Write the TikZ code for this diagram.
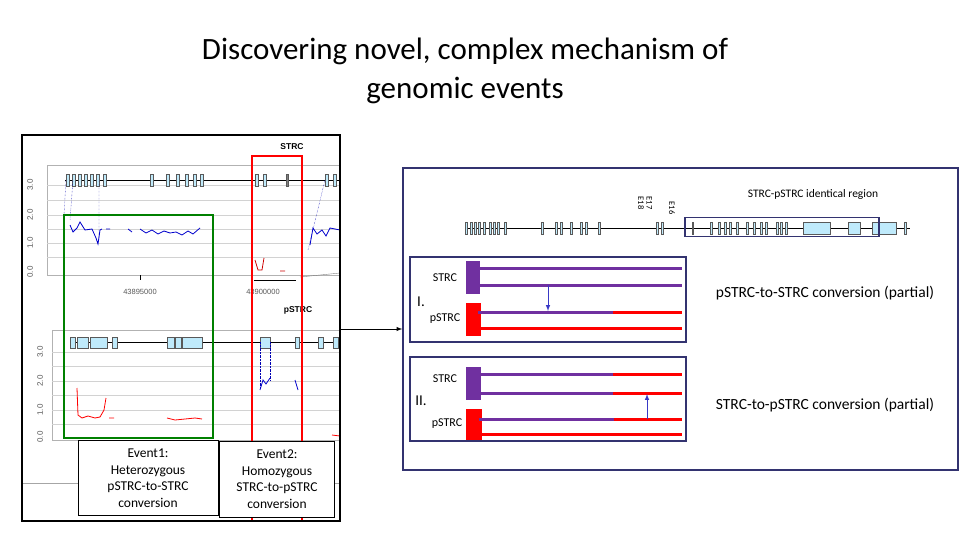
\documentclass[tikz,border=0pt]{standalone}
\usepackage{fontspec}
\setmainfont{Carlito}
\newfontfamily\arialf{Liberation Sans}
\definecolor{pur}{RGB}{112,48,160}
\begin{document}
\begin{tikzpicture}[x=1pt,y=-1pt,
  exon/.style={fill=cyan!25!white,draw=gray!70!black,line width=0.5pt},
  panel/.style={draw=blue!30!black!80,line width=1.4pt},
  purp/.style={draw=pur,line width=3pt},
  redl/.style={draw=red,line width=3pt},
  conv/.style={draw=blue!55!gray,line width=1pt,-latex},
  ax/.style={font=\arialf\fontsize{8}{9}\selectfont,rotate=90,text=gray!70!black},
  grid/.style={draw=gray!35,line width=0.5pt}]
\useasboundingbox (0,0) rectangle (960,540);
\node (title) [align=center,font=\fontsize{31}{39}\selectfont] at (465,71) {Discovering novel, complex mechanism of\\genomic events};
% ---- left screenshot
\fill[white] (22,135) rectangle (340,521);
\begin{scope}
\clip (22,135) rectangle (340,521);
% upper plot
\draw[gray!60] (47,165) rectangle (345,275);
\foreach \y in {185,200,215,229,243,257} \draw[grid] (47,\y) -- (340,\y);
\foreach \t/\y in {3.0/185,2.0/215,1.0/243,0.0/272} \node[ax] at (30,\y) {\t};
\draw[black,line width=0.8pt] (65,180) -- (340,180);
\foreach \a in {66,72,78,84,90,96,103,150,166,176,185,193,200,255,263,325,333}
  \draw[exon] (\a,174) rectangle ++(3,12);
\draw[exon,fill=gray] (286,174) rectangle ++(2,12);
\draw[blue!70!black,densely dotted] (66,180) -- (64,215) (73,180)--(70,220) (99,180)--(99,240) (325,180)--(308,250);
\draw[blue!80!black,line width=0.8pt] (70,225)--(73,232)--(77,228)--(80,222)--(85,230)--(92,229)--(96,238)--(98,244)--(100,230)--(102,229);
\draw[blue!80!black,line width=0.8pt] (106,229)--(110,229) (128,229)--(132,232) (140,229)--(146,233)--(152,230)--(158,234)--(164,231)--(170,233)--(176,232)--(182,235)--(188,231)--(193,234)--(200,228);
\draw[blue!80!black,line width=0.8pt] (310,245)--(313,228)--(317,234)--(322,230)--(326,236)--(330,228)--(340,230);
\draw[red!80!black,line width=0.8pt] (255,260)--(258,270)--(262,270)--(264,258) (280,271)--(285,271);
\draw (140,275)--(140,280);
\node[font=\arialf\fontsize{7.5}{8}\selectfont,text=gray!70!black] (t1) at (140,292) {43895000};
\node[font=\arialf\fontsize{7.5}{8}\selectfont,text=gray!70!black] (t2) at (263,292) {43900000};
\draw[line width=0.8pt] (254,280) -- (296,280);
\draw[gray] (300,277) -- (340,273);
\node[font=\arialf\bfseries\fontsize{8.5}{9}\selectfont] (lstrc) at (292,147) {STRC};
\node[font=\arialf\bfseries\fontsize{8.5}{9}\selectfont] (lpstrc) at (298,310) {pSTRC};
% lower plot
\draw[gray!60] (52,330) rectangle (345,440);
\foreach \y in {352,366,381,395,410,424} \draw[grid] (52,\y) -- (340,\y);
\foreach \t/\y in {3.0/352,2.0/381,1.0/410,0.0/437} \node[ax] at (40,\y) {\t};
\draw[black,line width=0.8pt] (70,342) -- (340,342);
\draw[exon] (70,337) rectangle (75,348); \draw[exon] (77,337) rectangle (88,348);
\draw[exon] (90,337) rectangle (107,348); \draw[exon] (112,337) rectangle (117,348);
\draw[exon] (167,337) rectangle (174,348); \draw[exon] (175,337) rectangle (181,348);
\draw[exon] (182,337) rectangle (202,348); \draw[exon] (260,337) rectangle (270,348);
\draw[exon] (295,337) rectangle (299,348); \draw[exon] (318,337) rectangle (323,348);
\draw[exon] (333,337) rectangle (338,348);
\draw[blue!70!black,densely dotted] (260,342)--(260,388) (270,342)--(270,380);
\draw[blue!80!black,line width=0.8pt] (260,390)--(263,380)--(266,384)--(270,378) (295,380)--(298,390);
\draw[red,line width=0.8pt] (77,388)--(78,415)--(82,418)--(88,416)--(95,418)--(100,417)--(104,410)--(106,398) (109,418)--(114,418) (167,418)--(175,420)--(185,419)--(195,418)--(202,419);
\draw[red,line width=0.8pt] (332,435)--(340,436);
\draw[gray!70] (22,483) -- (340,483);
\end{scope}
\draw[green!50!black,line width=1.2pt] (64,215) rectangle (213,438);
\draw[red,line width=1.6pt] (252,156) rectangle (302,521);
\node (ev1) [draw,fill=white,align=center,minimum width=140pt,minimum height=75pt,inner sep=1pt,font=\fontsize{13.5}{16.5}\selectfont] at (148,478) {Event1:\\Heterozygous\\pSTRC-to-STRC\\conversion};
\node (ev2) [draw,fill=white,align=center,minimum width=115pt,minimum height=76pt,inner sep=1pt,font=\fontsize{13.5}{16.5}\selectfont] at (277,479) {Event2:\\Homozygous\\STRC-to-pSTRC\\conversion};
\draw[line width=2.5pt] (22,135) rectangle (340,521);
% ---- right box
\node (rbox) [panel,minimum width=555pt,minimum height=302pt,inner sep=0] at (680.5,319) {};
\coordinate (src) at (340,329);
\draw[-latex,line width=1pt] (src) -- (rbox.west |- src);
\draw[line width=0.8pt] (465,228) -- (910,228);
\foreach \a in {465,470,474,478,483,489,493,497,504,541,555,560,570,580,585,598,656,661}
  \draw[exon] (\a,222) rectangle ++(2.5,12);
\draw[exon] (692,222) rectangle ++(1.5,12);
\foreach \a in {710,718,724,729,736,746,753,760,765,776,780,785}
  \draw[exon] (\a,222) rectangle ++(2.5,12);
\draw[exon] (803,222) rectangle (830,234);
\draw[exon] (848,222) rectangle (860,234);
\draw[exon] (872,222) rectangle (896,234);
\draw[exon] (904,222) rectangle ++(2,12);
\node (idbox) [draw=blue!30!black!80,line width=1.2pt,minimum width=194pt,minimum height=19pt,inner sep=0] at (782,227) {};
\node (idlab) [font=\fontsize{11.5}{13}\selectfont] at (813,194) {STRC-pSTRC identical region};
\node (e17) [font=\fontsize{8.5}{8.5}\selectfont,rotate=-90,align=center] at (645,203) {E17\\E18};
\node (e16) [font=\fontsize{8.5}{9}\selectfont,rotate=-90] at (672,208) {E16};
% panel I
\node (p1) [panel,minimum width=276pt,minimum height=85pt,inner sep=0] at (548,299.5) {};
\fill[pur] (466,261) rectangle (480,294);
\fill[red] (466,303) rectangle (481,336);
\draw[purp] (478,268) -- (682,268);
\draw[purp] (478,285) -- (682,285);
\draw[purp] (478,312) -- (613,312); \draw[redl] (613,312) -- (682,312);
\draw[redl] (478,328) -- (682,328);
\coordinate (a1s) at (548,285); \coordinate (a1e) at (548,311);
\draw[conv] (a1s) -- (a1e);
\node (s1) [font=\fontsize{12}{13}\selectfont] at (445,278) {STRC};
\node (ps1) [font=\fontsize{12}{13}\selectfont] at (445,319) {pSTRC};
\node (r1) [font=\fontsize{15}{16}\selectfont] at (421,302) {I.};
\node (c1) [font=\fontsize{15.5}{18}\selectfont] at (825,293) {pSTRC-to-STRC conversion (partial)};
% panel II
\node (p2) [panel,minimum width=276pt,minimum height=84pt,inner sep=0] at (548,399) {};
\fill[pur] (466,367) rectangle (481,400);
\fill[red] (466,409) rectangle (482,440);
\draw[purp] (479,374) -- (613,374); \draw[redl] (613,374) -- (682,374);
\draw[purp] (479,393) -- (613,393); \draw[redl] (613,393) -- (682,393);
\draw[purp] (479,419) -- (614,419); \draw[redl] (614,419) -- (682,419);
\draw[redl] (479,434) -- (682,434);
\coordinate (a2s) at (647,419); \coordinate (a2e) at (647,394);
\draw[conv] (a2s) -- (a2e);
\node (s2) [font=\fontsize{12}{13}\selectfont] at (445,379) {STRC};
\node (ps2) [font=\fontsize{12}{13}\selectfont] at (447,424) {pSTRC};
\node (r2) [font=\fontsize{15}{16}\selectfont] at (421,401) {II.};
\node (c2) [font=\fontsize{15.5}{18}\selectfont] at (825,405) {STRC-to-pSTRC conversion (partial)};
\end{tikzpicture}
\end{document}
